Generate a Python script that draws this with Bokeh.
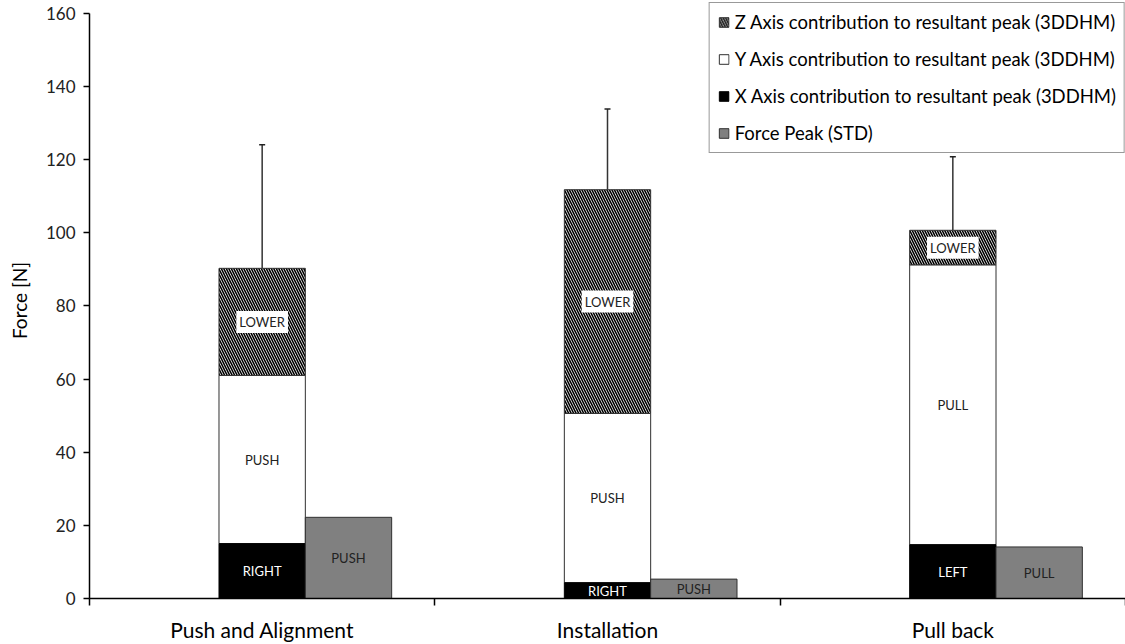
from bokeh.plotting import figure
from bokeh.models import (ColumnDataSource, FixedTicker, LabelSet, Legend, LegendItem,
                          Whisker, TeeHead, Range1d)
from bokeh.embed import file_html
from bokeh.resources import INLINE
from bokeh.core.properties import value

# ---- data ----
phases = ["Push and Alignment", "Installation", "Pull back"]
x_contrib = [15.0, 4.3, 14.7]      # X axis contribution (3DDHM)
y_contrib = [46.0, 46.3, 76.5]     # Y axis contribution (3DDHM)
z_contrib = [29.3, 61.2, 9.5]      # Z axis contribution (3DDHM)
resultant_sd = [33.8, 22.1, 20.1]  # error bar (SD) on resultant peak
force_peak = [22.2, 5.3, 14.1]     # Force Peak (STD)
x_labels = ["RIGHT", "RIGHT", "LEFT"]
y_labels = ["PUSH", "PUSH", "PULL"]
z_labels = ["LOWER", "LOWER", "LOWER"]
peak_labels = ["PUSH", "PUSH", "PULL"]
y_ticks = [0, 20, 40, 60, 80, 100, 120, 140, 160]

FONT = "Lato"
BAR_W = 0.25

centers = [i + 0.5 for i in range(len(phases))]
peak_x = [c + BAR_W for c in centers]
x_top = list(x_contrib)
y_top = [a + b for a, b in zip(x_top, y_contrib)]
z_top = [a + b for a, b in zip(y_top, z_contrib)]

src = ColumnDataSource(dict(
    x=centers, px=peak_x,
    x_bot=[0] * 3, x_top=x_top,
    y_bot=x_top, y_top=y_top,
    z_bot=y_top, z_top=z_top,
    peak=force_peak,
    err_hi=[t + e for t, e in zip(z_top, resultant_sd)],
    x_mid=[t / 2 for t in x_top],
    y_mid=[(a + b) / 2 for a, b in zip(x_top, y_top)],
    z_mid=[(a + b) / 2 for a, b in zip(y_top, z_top)],
    p_mid=[v / 2 for v in force_peak],
    x_lab=x_labels, y_lab=y_labels, z_lab=z_labels, p_lab=peak_labels,
))

p = figure(width=1125, height=644, output_backend="svg", toolbar_location=None,
           x_range=Range1d(0, 3), y_range=Range1d(0, 163),
           min_border_left=89, min_border_right=0, min_border_top=2, min_border_bottom=43)
p.outline_line_color = None
p.xgrid.visible = False
p.ygrid.visible = False
p.background_fill_color = "white"

OUT = "#303030"
rz = p.vbar(x="x", width=BAR_W, bottom="z_bot", top="z_top", source=src,
            fill_color="white", hatch_pattern="\\", hatch_color="black",
            hatch_scale=5, hatch_weight=1.6, line_color=OUT, line_width=1)
ry = p.vbar(x="x", width=BAR_W, bottom="y_bot", top="y_top", source=src,
            fill_color="white", line_color=OUT, line_width=1)
rx = p.vbar(x="x", width=BAR_W, bottom="x_bot", top="x_top", source=src,
            fill_color="black", line_color="black", line_width=1)
rp = p.vbar(x="px", width=BAR_W, bottom=0, top="peak", source=src,
            fill_color="#808080", line_color=OUT, line_width=1)

wh = Whisker(base="x", lower="z_top", upper="err_hi", source=src, dimension="height",
             line_color="#333333", line_width=1.5, lower_head=None,
             upper_head=TeeHead(size=6, line_color="#222222", line_width=1.5))
p.add_layout(wh)

TXT = "#222222"
common = dict(source=src, text_font=value(FONT), text_font_size="13px",
              text_align="center", text_baseline="middle")
p.add_layout(LabelSet(x="x", y="x_mid", text="x_lab", text_color="white", **common))
p.add_layout(LabelSet(x="x", y="y_mid", text="y_lab", text_color=TXT, **common))
p.text(x="x", y="z_mid", text="z_lab", text_color=TXT,
       background_fill_color="white", padding=3, **common)
p.add_layout(LabelSet(x="px", y="p_mid", text="p_lab", text_color=TXT, **common))

# axes
p.xaxis.ticker = FixedTicker(ticks=centers, minor_ticks=[0, 1, 2, 3])
p.xaxis.major_label_overrides = {c: n for c, n in zip(centers, phases)}
p.xaxis.major_tick_out = 0
p.xaxis.major_tick_in = 0
p.xaxis.minor_tick_out = 7
p.xaxis.minor_tick_in = 0
p.xaxis.minor_tick_line_color = "black"
p.xaxis.minor_tick_line_width = 1.5
p.xaxis.major_label_standoff = 11
p.xaxis.major_label_text_font = FONT
p.xaxis.major_label_text_font_size = "21px"
p.xaxis.major_label_text_color = "black"
p.xaxis.axis_line_color = "black"
p.xaxis.axis_line_width = 1.5

p.yaxis.ticker = FixedTicker(ticks=y_ticks, minor_ticks=[])
p.yaxis.bounds = (0, 160)
p.yaxis.major_tick_out = 6
p.yaxis.major_tick_in = 0
p.yaxis.major_tick_line_width = 1.5
p.yaxis.major_tick_line_color = "black"
p.yaxis.axis_line_color = "black"
p.yaxis.axis_line_width = 1.5
p.yaxis.major_label_text_font = FONT
p.yaxis.major_label_text_font_size = "17px"
p.yaxis.major_label_text_color = "#222222"
p.yaxis.major_label_standoff = 8
p.yaxis.axis_label = "Force [N]"
p.yaxis.axis_label_text_font = FONT
p.yaxis.axis_label_text_font_size = "19px"
p.yaxis.axis_label_text_font_style = "normal"
p.yaxis.axis_label_text_color = "black"
p.yaxis.axis_label_standoff = 12

legend = Legend(items=[
    LegendItem(label="Z Axis contribution to resultant peak (3DDHM)", renderers=[rz]),
    LegendItem(label="Y Axis contribution to resultant peak (3DDHM)", renderers=[ry]),
    LegendItem(label="X Axis contribution to resultant peak (3DDHM)", renderers=[rx]),
    LegendItem(label="Force Peak (STD)", renderers=[rp]),
], location="top_right")
legend.margin = 0
legend.padding = 8
legend.spacing = 15
legend.glyph_width = 12
legend.glyph_height = 12
legend.label_height = 20
legend.label_standoff = 5
legend.label_text_font = FONT
legend.label_text_font_size = "18.5px"
legend.label_text_color = "black"
legend.border_line_color = "#333333"
legend.border_line_width = 1
legend.background_fill_alpha = 1.0
p.add_layout(legend)

open("out.html", "w").write(file_html(p, INLINE))
